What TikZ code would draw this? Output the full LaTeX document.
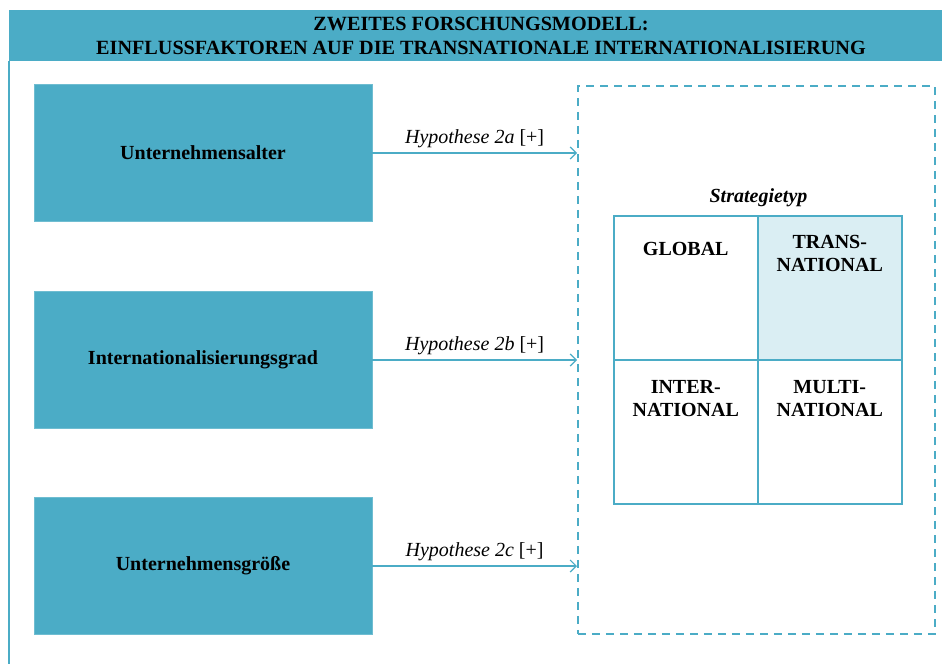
\documentclass[tikz,border=0pt]{standalone}
\usepackage{fontspec}
\setmainfont{Liberation Serif}
\usetikzlibrary{arrows.meta}
\definecolor{accent}{HTML}{4BACC6}
\definecolor{paleaccent}{HTML}{DAEEF3}
\begin{document}
\begin{tikzpicture}[x=1pt,y=-1pt,
  factor/.style={fill=accent,draw=accent!80!white,line width=0.4pt,minimum width=338pt,minimum height=137pt,font=\bfseries\fontsize{20}{24}\selectfont,inner sep=0pt},
  hyp/.style={font=\fontsize{20}{24}\selectfont,anchor=base,yshift=10pt,inner sep=0pt},
  link/.style={draw=accent,line width=1.2pt,-{Straight Barb[length=6pt,width=12pt,line width=1.2pt]}},
  cell/.style={draw=accent,line width=1.5pt,minimum width=144pt,minimum height=144pt,inner sep=0pt},
  celltext/.style={font=\bfseries\fontsize{20}{23}\selectfont,align=center,anchor=north,inner sep=0pt}]
\useasboundingbox (0,0) rectangle (942,664);
% frame: title bar and left rule
\node[fill=accent,minimum width=933pt,minimum height=51pt,anchor=north west,inner sep=0pt] (title) at (9,10) {};
\node[font=\bfseries\fontsize{20.2}{24}\selectfont,align=center,anchor=north,inner sep=0pt] (titletext) at (481,17)
  {ZWEITES FORSCHUNGSMODELL:\\EINFLUSSFAKTOREN AUF DIE TRANSNATIONALE INTERNATIONALISIERUNG};
\draw[accent,line width=1.5pt] (title.south west) -- (9,664);
% influence factors
\node[factor] (f1) at (203,153) {Unternehmensalter};
\node[factor] (f2) at (203,360) {Internationalisierungsgrad};
\node[factor] (f3) at (203,566) {Unternehmensgröße};
% dashed outcome box
\node[draw=accent,dash pattern=on 8pt off 6pt,line width=1.5pt,minimum width=357pt,minimum height=548pt,inner sep=0pt,anchor=north west] (outcome) at (577,85) {};
\coordinate (t1) at (outcome.west |- f1);
\coordinate (t2) at (outcome.west |- f2);
\coordinate (t3) at (outcome.west |- f3);
\draw[link] (f1.east) -- node[hyp]{\textit{Hypothese 2a} [+]} (t1);
\draw[link] (f2.east) -- node[hyp]{\textit{Hypothese 2b} [+]} (t2);
\draw[link] (f3.east) -- node[hyp]{\textit{Hypothese 2c} [+]} (t3);
% strategy type matrix
\node[cell,anchor=north west] (c11) at (613,215) {};
\node[cell,anchor=north west,fill=paleaccent] (c12) at (757,215) {};
\node[cell,anchor=north west] (c21) at (613,359) {};
\node[cell,anchor=north west] (c22) at (757,359) {};
\node[font=\bfseries\itshape\fontsize{20}{24}\selectfont,anchor=base,inner sep=0pt] (stype) at ([yshift=13pt]c11.north east) {Strategietyp};
\node[celltext] (g) at ([yshift=-27pt]c11.north) {GLOBAL};
\node[celltext] (tn) at ([yshift=-20pt]c12.north) {TRANS-\\NATIONAL};
\node[celltext] (in) at ([yshift=-21pt]c21.north) {INTER-\\NATIONAL};
\node[celltext] (mn) at ([yshift=-21pt]c22.north) {MULTI-\\NATIONAL};
\end{tikzpicture}
\end{document}
